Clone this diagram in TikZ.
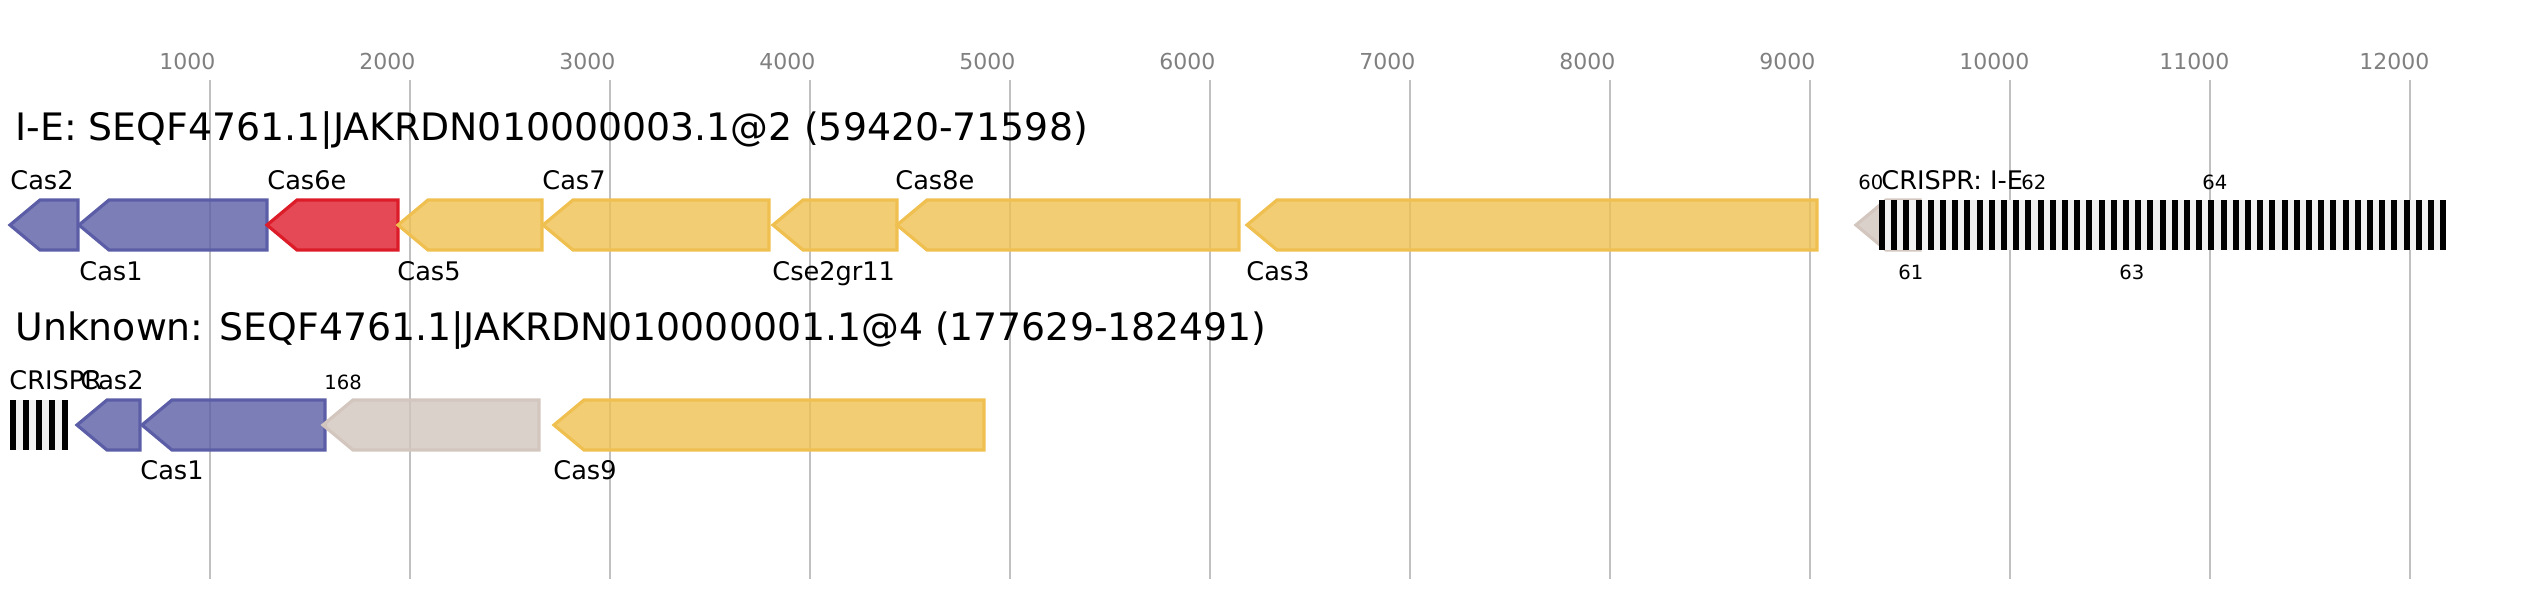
\documentclass[tikz,border=0pt]{standalone}
\usepackage{fontspec}
\setmainfont{DejaVu Sans}
\definecolor{cblue}{HTML}{5B5EA6}
\definecolor{cred}{HTML}{DD1C2A}
\definecolor{cyel}{HTML}{EFC050}
\definecolor{cgrey}{HTML}{D2C6BE}
\definecolor{gridc}{HTML}{C0C0C0}
\definecolor{axisc}{HTML}{808080}
\definecolor{crbg}{HTML}{F0F0F0}
\tikzset{
  x=0.5pt, y=-0.5pt,
  gene/.style={line width=1.6pt, line join=miter, fill opacity=0.8},
  bluegene/.style={gene, draw=cblue, fill=cblue},
  redgene/.style={gene, draw=cred, fill=cred},
  yelgene/.style={gene, draw=cyel, fill=cyel},
  greygene/.style={gene, draw=cgrey, fill=cgrey},
  title/.style={anchor=base west, inner sep=0pt, font=\fontsize{18.9pt}{20pt}\selectfont},
  glabel/.style={anchor=base west, inner sep=0pt, font=\fontsize{12.8pt}{14pt}\selectfont},
  nlabel/.style={anchor=base west, inner sep=0pt, font=\fontsize{9.8pt}{11pt}\selectfont},
  axlabel/.style={anchor=base west, inner sep=0pt, text=axisc, font=\fontsize{11pt}{12pt}\selectfont},
  gridline/.style={draw=gridc, line width=1pt},
}
% #1 tip x, #2 right x, #3 top y, #4 style
\newcommand\genearrow[4]{%
  \draw[#4] (#1,#3+25) -- (#1+30,#3) -- (#2,#3) -- (#2,#3+50) -- (#1+30,#3+50) -- cycle;}
\begin{document}
\begin{tikzpicture}
\useasboundingbox (0,0) rectangle (2536,600);
% grid and axis
\foreach \k in {1,...,12}{
  \draw[gridline] (10+200*\k,80) -- (10+200*\k,579);
  \pgfmathtruncatemacro\lab{1000*\k}
  \node[axlabel] (ax\k) at (10+200*\k-51,69) {\lab};
}
% ---- row 1 ----
\node[title] (t1) at (15,140) {I-E: SEQF4761.1|JAKRDN010000003.1@2 (59420-71598)};
\genearrow{10}{78}{200}{bluegene}
\genearrow{79}{267}{200}{bluegene}
\genearrow{267}{398}{200}{redgene}
\genearrow{398}{542}{200}{yelgene}
\genearrow{543}{769}{200}{yelgene}
\genearrow{773}{897}{200}{yelgene}
\genearrow{897}{1239}{200}{yelgene}
\genearrow{1247}{1817}{200}{yelgene}
\genearrow{1856}{1920}{200}{greygene}
\fill[crbg] (1879,200) rectangle (2446,250);
\foreach \i in {0,...,46}{\fill[black] (1879+12.2*\i,200) rectangle ++(6,50);}
\node[glabel] (l-cas2) at (10,189) {Cas2};
\node[glabel] (l-cas1) at (79,280) {Cas1};
\node[glabel] (l-cas6e) at (267,189) {Cas6e};
\node[glabel] (l-cas5) at (397,280) {Cas5};
\node[glabel] (l-cas7) at (542,189) {Cas7};
\node[glabel] (l-cse2) at (772,280) {Cse2gr11};
\node[glabel] (l-cas8e) at (895,189) {Cas8e};
\node[glabel] (l-cas3) at (1246,280) {Cas3};
\node[nlabel] (n60) at (1858,189) {60};
\node[glabel] (l-crispr1) at (1881,189) {CRISPR: I-E};
\node[nlabel] (n62) at (2021,189) {62};
\node[nlabel] (n64) at (2202,189) {64};
\node[nlabel] (n61) at (1898,279) {61};
\node[nlabel] (n63) at (2119,279) {63};
% ---- row 2 ----
\node[title] (t2) at (15,340) {Unknown: SEQF4761.1|JAKRDN010000001.1@4 (177629-182491)};
\fill[crbg] (10,400) rectangle (68,450);
\foreach \i in {0,...,4}{\fill[black] (10+13*\i,400) rectangle ++(6,50);}
\genearrow{77}{140}{400}{bluegene}
\genearrow{142}{325}{400}{bluegene}
\genearrow{323}{539}{400}{greygene}
\genearrow{554}{984}{400}{yelgene}
\node[glabel] (l-crispr2) at (9,389) {CRISPR};
\node[glabel] (l2-cas2) at (80,389) {Cas2};
\node[glabel] (l2-cas1) at (140,479) {Cas1};
\node[nlabel] (n168) at (324,389) {168};
\node[glabel] (l2-cas9) at (553,479) {Cas9};
\end{tikzpicture}
\end{document}
